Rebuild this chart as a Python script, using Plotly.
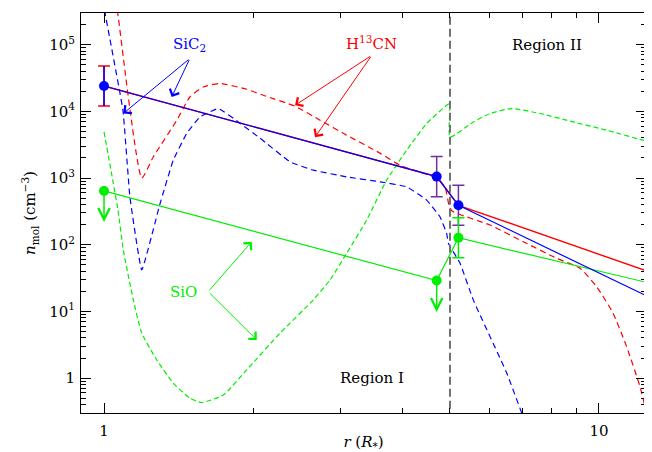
import math
import plotly.graph_objects as go

# ---------------- data ----------------
# observed abundances (points) : r in R*, n in cm^-3
r_obs = [1.0, 4.7, 5.2]
sic2_obs = [2.4e4, 1.05e3, 3.9e2]
hcn_obs = [2.4e4, 1.05e3, 3.9e2]
sio_obs = [6.4e2, 2.9e1, 1.27e2]
err_factor = 2.0
sio_upper_limit_to = [2.2e2, 9.8]       # arrow tips for upper limits (points 1, 2)

# solid power-law fits
fit_r = [1.0, 4.7, 5.2, 12.6]
sic2_fit = [2.4e4, 1.05e3, 3.9e2, 16.5]
hcn_fit = [2.4e4, 1.05e3, 3.9e2, 39.5]
sio_fit = [6.4e2, 2.9e1, 1.27e2, 26.8]

# dashed chemical models
hcn_model_r = [1.055, 1.066, 1.192, 1.258, 1.403, 1.491, 1.587, 1.715, 1.942, 2.098,
               2.432, 2.732, 3.092, 3.61, 3.963, 4.35, 4.70, 4.886, 4.977, 5.047,
               6.024, 7.03, 8.21, 9.155, 9.89, 10.67, 11.37, 12.10, 12.48, 12.8]
hcn_model = [4.6e5, 2.95e5, 1.0e3, 2.08e3, 7.36e3, 1.64e4, 2.32e4, 2.61e4, 2.14e4, 1.74e4,
             1.19e4, 7.36e3, 4.39e3, 2.36e3, 1.56e3, 1.225e3, 9.97e2, 7.31e2, 3.9e2, 3.2e2,
             1.97e2, 1.11e2, 6.26e1, 4.44e1, 2.35e1, 9.5, 2.97, 0.75, 0.30, 0.15]

sic2_model_r = [0.995, 1.005, 1.092, 1.128, 1.192, 1.297, 1.380, 1.47, 1.563, 1.702,
                1.882, 2.066, 2.376, 2.648, 3.092, 3.61, 4.089, 4.486, 4.773, 4.923,
                4.963, 5.24, 5.572, 6.511, 6.98, 7.2]
sic2_model = [4.6e5, 2.94e5, 1.04e4, 5.23e2, 4.18e1, 4.07e2, 1.85e3, 4.7e3, 8.25e3, 1.1e4,
              6.63e3, 3.96e3, 1.75e3, 1.31e3, 1.04e3, 8.77e2, 7.38e2, 4.67e2, 2.62e2, 1.48e2,
              1.05e2, 52.7, 14.9, 1.19, 0.30, 0.15]

sio_model_r = [1.0, 1.067, 1.094, 1.146, 1.192, 1.278, 1.380, 1.491, 1.576, 1.742,
               1.942, 2.268, 2.648, 2.861, 3.092, 3.393, 3.725, 4.089, 4.486,
               4.923, 4.99, 5.0, 5.572, 6.024, 6.663, 7.60, 8.87, 10.36, 12.49, 13.0]
sio_model = [4.9e3, 3.31e2, 8.33e1, 14.9, 4.72, 1.88, 0.842, 0.50, 0.431,
             0.56, 1.33, 4.72, 14.9, 29.6, 74.4, 2.34e2, 9.3e2, 2.62e3, 6.56e3,
             1.23e4, 1.3e4, 4.1e3, 6.93e3, 9.27e3, 1.1e4, 9.27e3, 6.93e3, 5.21e3, 3.57e3, 3.4e3]

r_boundary = 5.0

x_tick_vals = [1, 10]
x_tick_text = ["1", "10"]
y_tick_vals = [1, 10, 100, 1e3, 1e4, 1e5]
y_tick_text = ["1", "10<sup>1</sup>", "10<sup>2</sup>", "10<sup>3</sup>", "10<sup>4</sup>", "10<sup>5</sup>"]

# ---------------- styling ----------------
RED = "#ff0000"
BLUE = "#0000ff"
GREEN = "#00ee00"
PURPLE = "#7030a0"
FONT = "DejaVu Serif"
L = math.log10

fig = go.Figure()

dash_pat = "6px,4px"
fig.add_trace(go.Scatter(x=hcn_model_r, y=hcn_model, mode="lines",
                         line=dict(color=RED, width=1.2, dash=dash_pat, shape="spline", smoothing=0.5)))
fig.add_trace(go.Scatter(x=sic2_model_r, y=sic2_model, mode="lines",
                         line=dict(color=BLUE, width=1.2, dash=dash_pat, shape="spline", smoothing=0.3)))
fig.add_trace(go.Scatter(x=sio_model_r, y=sio_model, mode="lines",
                         line=dict(color=GREEN, width=1.2, dash="5px,3px", shape="spline", smoothing=0.5)))

# boundary between regions
fig.add_trace(go.Scatter(x=[r_boundary, r_boundary], y=[0.1, 1e6], mode="lines",
                         line=dict(color="#707070", width=2, dash="8px,4px")))

# fits
fig.add_trace(go.Scatter(x=fit_r, y=sio_fit, mode="lines", line=dict(color=GREEN, width=1.2)))
fig.add_trace(go.Scatter(x=fit_r, y=hcn_fit, mode="lines", line=dict(color=RED, width=1.4)))
fig.add_trace(go.Scatter(x=fit_r, y=sic2_fit, mode="lines", line=dict(color=BLUE, width=1.2)))

# error bars
def errs(vals):
    plus = [v * err_factor - v for v in vals]
    minus = [v - v / err_factor for v in vals]
    return plus, minus

p, m = errs(hcn_obs[:1])
fig.add_trace(go.Scatter(x=r_obs[:1], y=hcn_obs[:1], mode="markers", marker=dict(size=1, opacity=0),
                         error_y=dict(type="data", array=p, arrayminus=m, color=RED,
                                      thickness=1.5, width=6)))
p, m = errs(sic2_obs[:1])
fig.add_trace(go.Scatter(x=r_obs[:1], y=sic2_obs[:1], mode="markers", marker=dict(size=1, opacity=0),
                         error_y=dict(type="data", array=p, arrayminus=m, color=BLUE,
                                      thickness=1.5, width=0)))
p, m = errs(sic2_obs[1:])
fig.add_trace(go.Scatter(x=r_obs[1:], y=sic2_obs[1:], mode="markers", marker=dict(size=1, opacity=0),
                         error_y=dict(type="data", array=p, arrayminus=m, color=PURPLE,
                                      thickness=1.5, width=6)))
p, m = errs(sio_obs[2:])
fig.add_trace(go.Scatter(x=r_obs[2:], y=sio_obs[2:], mode="markers", marker=dict(size=1, opacity=0),
                         error_y=dict(type="data", array=p, arrayminus=m, color=GREEN,
                                      thickness=1.5, width=6)))

# points
fig.add_trace(go.Scatter(x=r_obs, y=sio_obs, mode="markers",
                         marker=dict(color=GREEN, size=10, line=dict(width=0))))
fig.add_trace(go.Scatter(x=r_obs, y=sic2_obs, mode="markers",
                         marker=dict(color=BLUE, size=10, line=dict(width=0))))

annotations = []

# upper-limit arrows for SiO
for xi, y0, y1 in zip(r_obs[:2], sio_obs[:2], sio_upper_limit_to):
    annotations.append(dict(x=L(xi), y=L(y1), ax=L(xi), ay=L(y0), xref="x", yref="y",
                            axref="x", ayref="y", text="", showarrow=True,
                            arrowhead=5, arrowsize=1.5, arrowwidth=1.5, arrowcolor=GREEN,
                            standoff=0, startstandoff=0))

def pointer(tail, tip, color):
    return dict(x=L(tip[0]), y=L(tip[1]), ax=L(tail[0]), ay=L(tail[1]), xref="x", yref="y",
                axref="x", ayref="y", text="", showarrow=True, arrowhead=4,
                arrowsize=2.0, arrowwidth=1, arrowcolor=color, standoff=0, startstandoff=0)

def label(pos, text, color, size=15):
    return dict(x=L(pos[0]), y=L(pos[1]), xref="x", yref="y", text=text, showarrow=False,
                font=dict(family=FONT, size=size, color=color))

# SiC2
annotations.append(label((1.491, 9.9e4), "SiC<sub>2</sub>", BLUE))
annotations.append(pointer((1.491, 6.2e4), (1.094, 9.3e3), BLUE))
annotations.append(pointer((1.491, 6.2e4), (1.370, 1.64e4), BLUE))
# H13CN
annotations.append(label((3.474, 1.05e5), "H<sup>13</sup>CN", RED))
annotations.append(pointer((3.474, 6.9e4), (2.432, 1.23e4), RED))
annotations.append(pointer((3.474, 6.9e4), (2.669, 4.1e3), RED))
# SiO
annotations.append(label((1.45, 19.8), "SiO", GREEN))
annotations.append(pointer((1.624, 19.8), (1.988, 111), GREEN))
annotations.append(pointer((1.624, 19.8), (2.035, 3.74), GREEN))
# regions
annotations.append(label((3.474, 1.0), "Region I", "black"))
annotations.append(label((7.84, 1.0e5), "Region II", "black"))

axis_common = dict(type="log", showline=True, linecolor="black", linewidth=1, mirror="ticks",
                   ticks="inside", ticklen=10, tickwidth=1, tickcolor="black",
                   showgrid=False, zeroline=False, automargin=False,
                   tickfont=dict(family=FONT, size=15, color="black"))

y_minor = [k * 10 ** e for e in range(-1, 6) for k in range(2, 10)]
x_minor = [k for k in range(2, 10)]

# the page body adds an 8px offset, so the figure is 8px smaller than the window
fig.update_layout(
    width=644, height=444,
    margin=dict(l=73, r=6, t=5, b=39),
    paper_bgcolor="white", plot_bgcolor="white",
    showlegend=False,
    annotations=annotations,
    xaxis=dict(**axis_common, range=[-0.0465, 1.095], tickvals=x_tick_vals, ticktext=x_tick_text,
               minor=dict(tickvals=x_minor, ticks="inside", ticklen=5, tickcolor="black", tickwidth=1),
               ticklabelstandoff=4,
               title=dict(text="<i>r</i> (<i>R</i><sub>*</sub>)", standoff=0,
                          font=dict(family=FONT, size=15, color="black"))),
    yaxis=dict(**axis_common, range=[-0.523, 5.474], tickvals=y_tick_vals, ticktext=y_tick_text,
               minor=dict(tickvals=y_minor, ticks="inside", ticklen=5, tickcolor="black", tickwidth=1),
               ticklabelstandoff=2,
               title=dict(text="<i>n</i><sub>mol</sub> (cm<sup>−3</sup>)", standoff=9,
                          font=dict(family=FONT, size=15, color="black"))),
)

fig.write_html("out.html")
